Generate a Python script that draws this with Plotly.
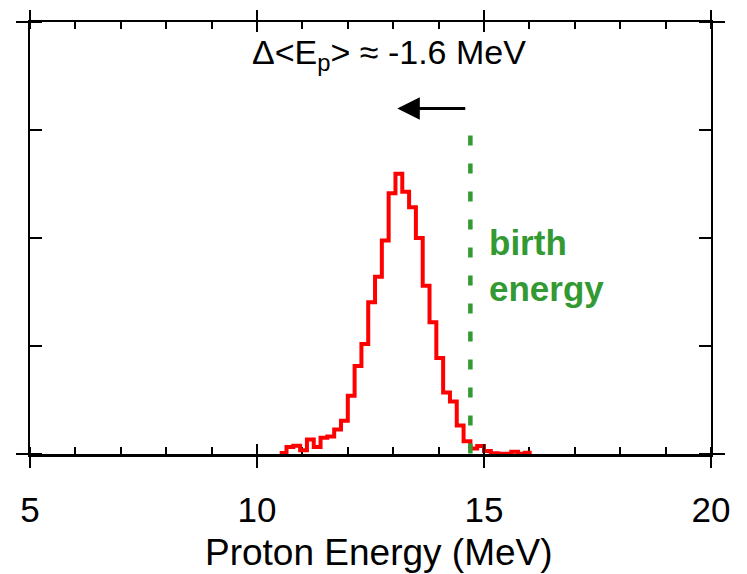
import plotly.graph_objects as go

# ---------------- data ----------------
bin_start = 10.5          # MeV, left edge of first bin
bin_width = 0.15          # MeV
counts = [0.01, 0.064, 0.077, 0.034, 0.135, 0.064, 0.151, 0.163, 0.227, 0.309,
          0.539, 0.815, 1.019, 1.405, 1.641, 1.978, 2.415, 2.596, 2.428, 2.284,
          1.999, 1.558, 1.221, 0.888, 0.569, 0.487, 0.264, 0.119, 0.050, 0.073,
          0.028, 0.006, 0.002, 0.002, 0.020, 0.002, 0.011]
birth_energy = 14.7       # MeV
birth_line_top = 2.95
x_major_ticks = [5, 10, 15, 20]
x_tick_labels = ["5", "10", "15", "20"]
x_range = [5, 20]
y_range = [0, 4]
x_title = "Proton Energy (MeV)"

# ------------- histogram steps -------------
edges = [bin_start + bin_width * i for i in range(len(counts) + 1)]
step_x = edges
step_y = counts + [counts[-1]]

FONT = "Liberation Sans, Arial, sans-serif"
GREEN = "#339933"

fig = go.Figure()
fig.add_trace(go.Scatter(x=step_x, y=step_y, mode="lines", line_shape="hv",
                         line=dict(color="#FF0000", width=4), showlegend=False,
                         hoverinfo="skip"))
fig.add_trace(go.Scatter(x=[birth_energy, birth_energy], y=[birth_line_top, 0],
                         mode="lines", line=dict(color=GREEN, width=4.5, dash="10px,18px"),
                         showlegend=False, hoverinfo="skip"))
# dummy traces so the helper axes are drawn
for ax in ["x2", "x3", "x4"]:
    fig.add_trace(go.Scatter(x=[None], y=[None], xaxis=ax, yaxis="y",
                             showlegend=False, hoverinfo="skip"))

common = dict(range=x_range, showgrid=False, zeroline=False, fixedrange=True)
fig.update_layout(
    width=747, height=574,
    margin=dict(l=30, r=36, t=18, b=120),
    paper_bgcolor="white", plot_bgcolor="white",
    font=dict(family=FONT, color="black"),
    xaxis=dict(**common, side="bottom", anchor="y", showline=True, linewidth=3,
               linecolor="black", ticks="outside", ticklen=11, tickwidth=2,
               tickcolor="black", tickmode="array", tickvals=x_major_ticks,
               ticktext=x_tick_labels, tickfont=dict(size=35, family=FONT),
               ticklabelstandoff=12,
               minor=dict(ticks="inside", ticklen=7, tickwidth=2, tickcolor="black",
                          dtick=1, tick0=5),
               layer="below traces"),
    xaxis2=dict(**common, overlaying="x", side="bottom", anchor="y", showline=False,
                ticks="inside", ticklen=10, tickwidth=2, tickcolor="black",
                tickmode="array", tickvals=x_major_ticks, showticklabels=False),
    xaxis3=dict(**common, overlaying="x", side="top", anchor="y", showline=True,
                linewidth=2, linecolor="black", ticks="outside", ticklen=10,
                tickwidth=2, tickcolor="black", tickmode="array",
                tickvals=x_major_ticks, showticklabels=False,
                minor=dict(ticks="inside", ticklen=7, tickwidth=2, tickcolor="black",
                           dtick=1, tick0=5)),
    xaxis4=dict(**common, overlaying="x", side="top", anchor="y", showline=False,
                ticks="inside", ticklen=10, tickwidth=2, tickcolor="black",
                tickmode="array", tickvals=x_major_ticks, showticklabels=False),
    yaxis=dict(range=y_range, showgrid=False, zeroline=False, fixedrange=True,
               showline=True, linewidth=2, linecolor="black", mirror="allticks",
               ticks="outside", ticklen=12, tickwidth=2, tickcolor="black",
               tickmode="array", tickvals=[0, 4], showticklabels=False,
               minor=dict(ticks="inside", ticklen=8, tickwidth=2, tickcolor="black",
                          dtick=1, tick0=0)),
)

# x-axis title (placed slightly right of centre, as in the reference)
fig.add_annotation(x=0.5125, y=-0.228, xref="paper", yref="paper", showarrow=False,
                   text=x_title, font=dict(size=37, family=FONT, color="black"),
                   xanchor="center", yanchor="middle")
fig.add_annotation(x=12.9, y=3.70, xref="x", yref="y", showarrow=False,
                   text="Δ&lt;E<sub>p</sub>&gt; ≈ -1.6 MeV",
                   font=dict(size=34, family=FONT, color="black"),
                   xanchor="center", yanchor="middle")
fig.add_annotation(x=13.09, y=3.20, ax=14.62, ay=3.20, xref="x", yref="y",
                   axref="x", ayref="y", text="", showarrow=True,
                   arrowhead=2, arrowsize=1.5, arrowwidth=3, arrowcolor="black")
fig.add_annotation(x=15.06, y=2.16, xref="x", yref="y", showarrow=False,
                   text="<b>birth<br>energy</b>", align="left",
                   font=dict(size=35, family=FONT, color=GREEN),
                   xanchor="left", yanchor="top")

fig.write_html("out.html")
